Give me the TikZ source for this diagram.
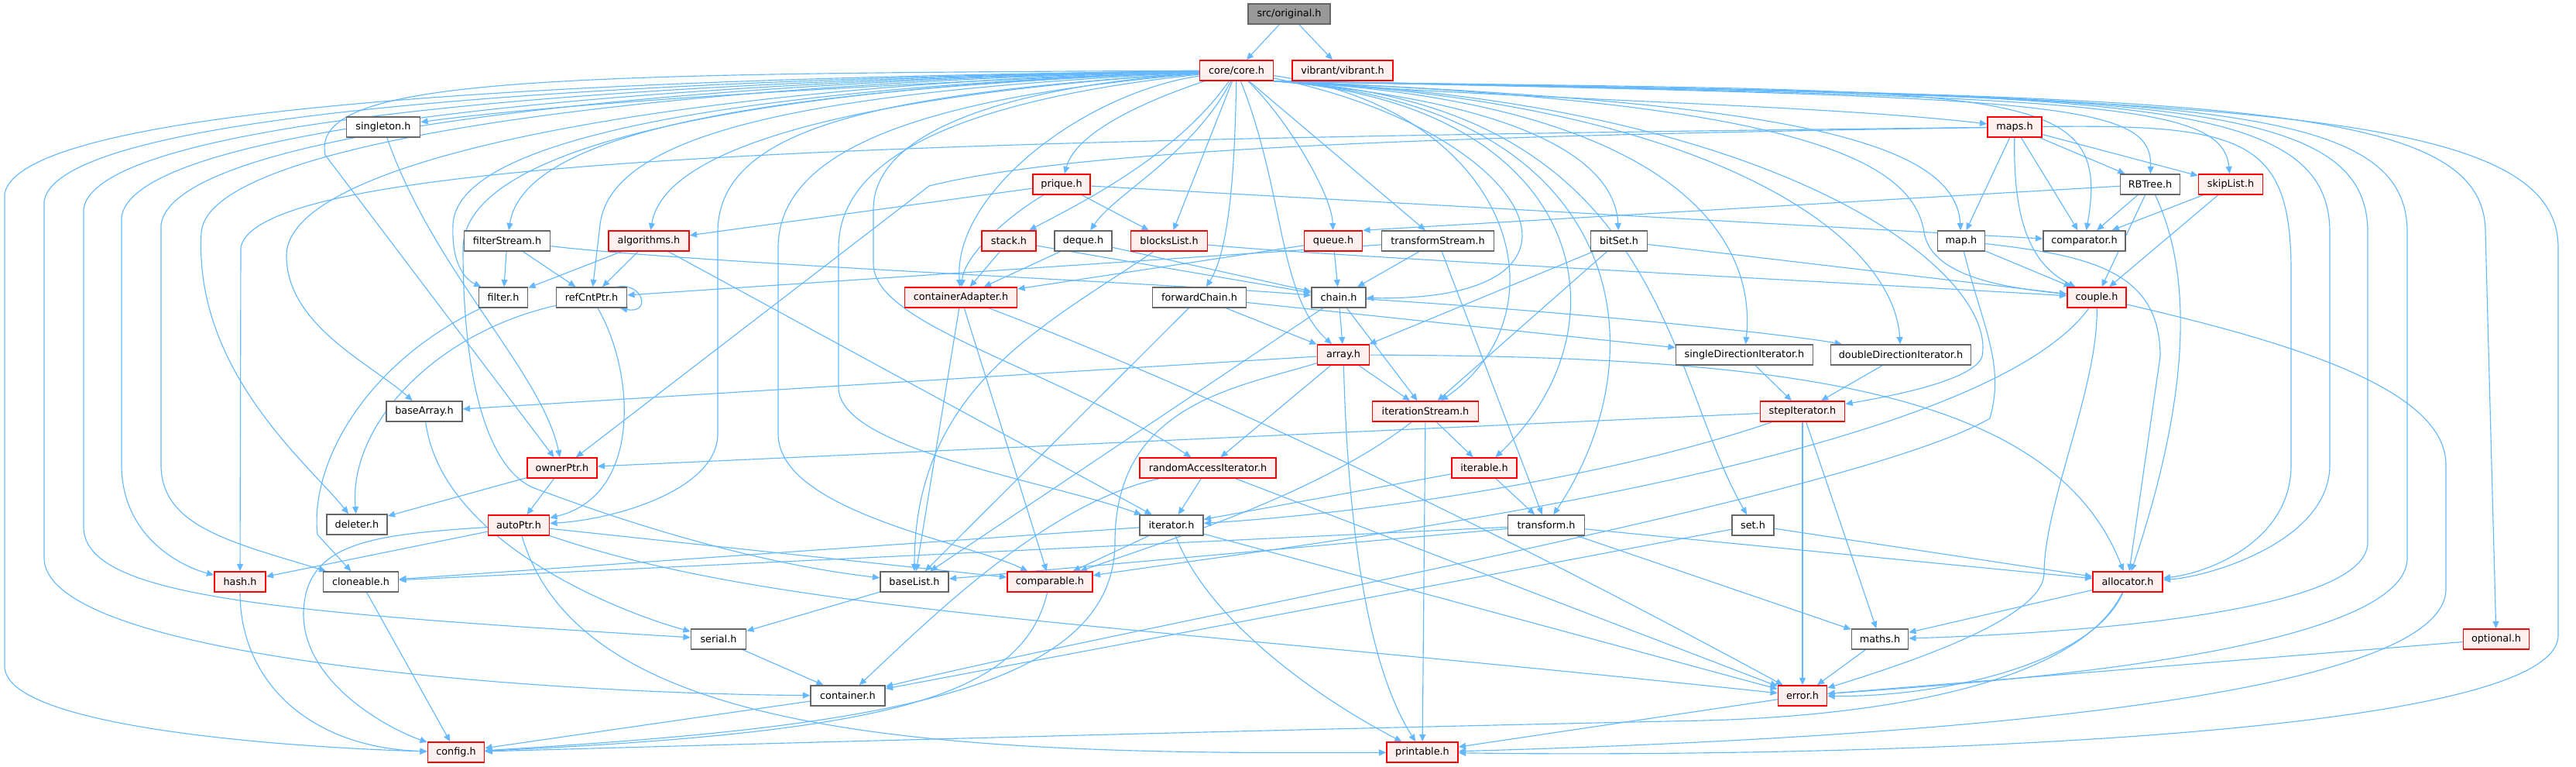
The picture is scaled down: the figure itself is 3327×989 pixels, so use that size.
\documentclass[tikz,border=0pt]{standalone}
\usepackage{fontspec}
\setmainfont{DejaVu Sans}
\usetikzlibrary{arrows.meta, backgrounds}
\definecolor{edgeblue}{HTML}{63B8FF}
\definecolor{boxgray}{HTML}{666666}
\definecolor{boxred}{HTML}{FF0000}
\definecolor{boxpink}{HTML}{FFF0F0}
\definecolor{rootfill}{HTML}{999999}
\tikzset{
  header/.style={rectangle, draw=boxgray, line width=1.1pt, fill=white, minimum height=19.5pt, inner sep=1pt, text centered},
  redheader/.style={header, draw=boxred, fill=boxpink},
  rootheader/.style={header, fill=rootfill},
  wd/.style={minimum width=#1*0.75pt},
  arrow/.style={-{Triangle[length=7pt, width=6pt]}, draw=edgeblue, line width=0.85pt}
}

\begin{document}
\begin{tikzpicture}[x=0.75pt, y=-0.75pt, every node/.style={font=\fontsize{9.6}{11}\selectfont}]
  \useasboundingbox (0,0) rectangle (3327,989);
  % Nodes
  \node[rootheader, wd=106] (original) at (1665,18) {src/original.h};
  \node[redheader, wd=95] (core) at (1597,91) {core/core.h};
  \node[redheader, wd=130] (vibrant) at (1734,91) {vibrant/vibrant.h};
  \node[header, wd=95] (singleton) at (495,164) {singleton.h};
  \node[redheader, wd=70] (maps) at (2602,164) {maps.h};
  \node[redheader, wd=74] (prique) at (1371,238) {prique.h};
  \node[header, wd=77] (rbtree) at (2777,238) {RBTree.h};
  \node[redheader, wd=83] (skiplist) at (2881,238) {skipList.h};
  \node[header, wd=111] (filterstream) at (655,311) {filterStream.h};
  \node[redheader, wd=104] (algorithms) at (838,311) {algorithms.h};
  \node[redheader, wd=70] (stack) at (1303,311) {stack.h};
  \node[header, wd=74] (deque) at (1399,311) {deque.h};
  \node[redheader, wd=99] (blockslist) at (1510,311) {blocksList.h};
  \node[redheader, wd=75] (queue) at (1722,311) {queue.h};
  \node[header, wd=145] (transformstream) at (1857,311) {transformStream.h};
  \node[header, wd=73] (bitset) at (2091,311) {bitSet.h};
  \node[header, wd=61] (map) at (2533,311) {map.h};
  \node[header, wd=106] (comparator) at (2692,311) {comparator.h};
  \node[header, wd=63] (filter) at (650,384) {filter.h};
  \node[header, wd=91] (refcntptr) at (764,384) {refCntPtr.h};
  \node[redheader, wd=145] (containeradapter) at (1241,384) {containerAdapter.h};
  \node[header, wd=121] (forwardchain) at (1549,384) {forwardChain.h};
  \node[header, wd=70] (chain) at (1729,384) {chain.h};
  \node[redheader, wd=76] (couple) at (2708,384) {couple.h};
  \node[redheader, wd=67] (array) at (1735,458) {array.h};
  \node[header, wd=177] (singledir) at (2253,458) {singleDirectionIterator.h};
  \node[header, wd=181] (doubledir) at (2455,458) {doubleDirectionIterator.h};
  \node[header, wd=98] (basearray) at (548,531) {baseArray.h};
  \node[redheader, wd=137] (iterationstream) at (1841,531) {iterationStream.h};
  \node[redheader, wd=109] (stepiterator) at (2328,531) {stepIterator.h};
  \node[redheader, wd=90] (ownerptr) at (726,604) {ownerPtr.h};
  \node[redheader, wd=176] (randomaccess) at (1560,604) {randomAccessIterator.h};
  \node[redheader, wd=84] (iterable) at (1917,604) {iterable.h};
  \node[header, wd=78] (deleter) at (461,677) {deleter.h};
  \node[redheader, wd=79] (autoptr) at (670,678) {autoPtr.h};
  \node[header, wd=82] (iterator) at (1513,678) {iterator.h};
  \node[header, wd=99] (transform) at (1997,678) {transform.h};
  \node[header, wd=54] (set) at (2264,678) {set.h};
  \node[redheader, wd=66] (hash) at (310,751) {hash.h};
  \node[header, wd=97] (cloneable) at (466,751) {cloneable.h};
  \node[header, wd=88] (baselist) at (1181,751) {baseList.h};
  \node[redheader, wd=110] (comparable) at (1356,751) {comparable.h};
  \node[redheader, wd=90] (allocator) at (2748,751) {allocator.h};
  \node[header, wd=71] (serial) at (928,825) {serial.h};
  \node[header, wd=73] (maths) at (2428,825) {maths.h};
  \node[redheader, wd=85] (optional) at (3224,825) {optional.h};
  \node[header, wd=96] (container) at (1095,898) {container.h};
  \node[redheader, wd=63] (error) at (2328,898) {error.h};
  \node[redheader, wd=73] (config) at (589,971) {config.h};
  \node[redheader, wd=92] (printable) at (1837,971) {printable.h};

  \begin{scope}[on background layer]
  % Connections from the root
  \draw[arrow] (original) -- (core);
  \draw[arrow] (original) -- (vibrant);

  % core.h, round the left
  \draw[arrow] (core) .. controls (900,100) and (30,125) .. (6,250) -- (6,860) .. controls (6,940) and (380,965) .. (config);
  \draw[arrow] (core) .. controls (900,101) and (75,135) .. (57,260) -- (57,720) .. controls (57,850) and (700,895) .. (container);
  \draw[arrow] (core) .. controls (900,102) and (125,145) .. (108,270) -- (108,680) .. controls (108,770) and (350,790) .. (serial);
  \draw[arrow] (core) .. controls (900,103) and (175,155) .. (157,280) -- (157,600) .. controls (157,690) and (230,730) .. (hash);
  \draw[arrow] (core) .. controls (900,104) and (225,165) .. (208,290) -- (208,600) .. controls (208,680) and (300,700) .. (cloneable);
  \draw[arrow] (core) .. controls (900,106) and (270,175) .. (260,300) .. controls (250,480) and (400,600) .. (deleter);
  \draw[arrow] (core) .. controls (900,108) and (370,200) .. (370,330) .. controls (370,420) and (480,470) .. (basearray);
  \draw[arrow] (core) .. controls (700,95) and (400,100) .. (420,200) -- (ownerptr);
  \draw[arrow] (core) .. controls (1200,105) and (750,130) .. (singleton);
  \draw[arrow] (core) .. controls (1000,112) and (590,170) .. (585,290) .. controls (583,340) and (600,360) .. (filter);
  \draw[arrow] (core) .. controls (1100,112) and (680,150) .. (filterstream);
  \draw[arrow] (core) .. controls (1100,116) and (790,160) .. (775,290) -- (refcntptr);
  \draw[arrow] (core) .. controls (1150,120) and (860,180) .. (algorithms);
  \draw[arrow] (core) .. controls (950,114) and (600,190) .. (598,320) .. controls (598,520) and (640,610) .. (690,630) .. controls (850,690) and (1000,730) .. (baselist);
  \draw[arrow] (core) .. controls (1150,120) and (927,160) .. (927,300) -- (927,560) .. controls (927,630) and (800,670) .. (autoptr);
  \draw[arrow] (core) .. controls (1200,125) and (1005,190) .. (1005,320) -- (1005,560) .. controls (1005,660) and (1250,700) .. (comparable);
  \draw[arrow] (core) .. controls (1250,128) and (1083,200) .. (1083,320) -- (1083,500) .. controls (1083,580) and (1350,620) .. (iterator);
  \draw[arrow] (core) .. controls (1300,112) and (1128,170) .. (1128,270) -- (1128,340) .. controls (1128,420) and (1350,470) .. (randomaccess);

  % core.h, straight down
  \draw[arrow] (core) .. controls (1480,130) and (1390,170) .. (prique);
  \draw[arrow] (core) .. controls (1400,120) and (1230,250) .. (containeradapter);
  \draw[arrow] (core) .. controls (1520,200) and (1400,260) .. (stack);
  \draw[arrow] (core) .. controls (1540,200) and (1440,250) .. (deque);
  \draw[arrow] (core) -- (blockslist);
  \draw[arrow] (core) .. controls (1595,200) and (1590,320) .. (forwardchain);
  \draw[arrow] (core) .. controls (1660,250) and (1650,380) .. (array);
  \draw[arrow] (core) .. controls (1660,150) and (1720,250) .. (queue);
  \draw[arrow] (core) -- (transformstream);
  \draw[arrow] (core) .. controls (1980,170) and (2100,390) .. (chain);
  \draw[arrow] (core) .. controls (1950,140) and (2030,400) .. (iterationstream);

  % core.h, round the right
  \draw[arrow] (core.south east) .. controls (1950,130) and (2085,200) .. (bitset);
  \draw[arrow] (core.south east) .. controls (2050,135) and (2110,420) .. (iterable);
  \draw[arrow] (core.south east) .. controls (2100,135) and (2150,450) .. (transform);
  \draw[arrow] (core.south east) .. controls (2150,130) and (2150,480) .. (set);
  \draw[arrow] (core.south east) .. controls (2150,130) and (2270,300) .. (singledir);
  \draw[arrow] (core.south east) .. controls (2200,130) and (2445,300) .. (doubledir);
  \draw[arrow] (core.south east) .. controls (2300,130) and (2580,350) .. (2560,460) .. controls (2550,490) and (2450,510) .. (stepiterator);
  \draw[arrow] (core.south east) .. controls (2000,130) and (2350,135) .. (maps);
  \draw[arrow] (core.south east) .. controls (2250,130) and (2525,170) .. (map);
  \draw[arrow] (core.south east) .. controls (2300,130) and (2470,200) .. (2485,300) .. controls (2495,360) and (2600,372) .. (couple);
  \draw[arrow] (core.south east) .. controls (2600,120) and (2730,100) .. (comparator);
  \draw[arrow] (core.south east) .. controls (2650,125) and (2780,130) .. (rbtree);
  \draw[arrow] (core.south east) .. controls (2700,125) and (2870,130) .. (skiplist);
  \draw[arrow] (core.south east) .. controls (2700,125) and (3009,110) .. (3009,300) -- (3009,600) .. controls (3009,700) and (2850,745) .. (allocator);
  \draw[arrow] (core.south east) .. controls (2750,125) and (3058,115) .. (3058,300) -- (3058,700) .. controls (3058,800) and (2600,820) .. (maths);
  \draw[arrow] (core.south east) .. controls (2800,125) and (3109,120) .. (3109,300) -- (3109,720) .. controls (3109,850) and (2500,885) .. (error);
  \draw[arrow] (core.south east) .. controls (2850,125) and (3210,125) .. (3210,300) -- (optional);
  \draw[arrow] (core.south east) .. controls (2900,125) and (3304,140) .. (3304,320) -- (3304,820) .. controls (3304,960) and (2300,978) .. (printable);

  % left part
  \draw[arrow] (singleton) .. controls (560,350) and (700,480) .. (ownerptr);
  \draw[arrow] (filterstream) -- (filter);
  \draw[arrow] (filterstream) -- (refcntptr);
  \draw[arrow] (filterstream) .. controls (900,340) and (1500,365) .. (chain);
  \draw[arrow] (algorithms) -- (filter);
  \draw[arrow] (algorithms) -- (refcntptr);
  \draw[arrow] (algorithms) -- (iterator);
  \draw[arrow] ([xshift=-10pt]refcntptr.north east) .. controls +(35,-6) and +(40,8) .. ([xshift=-7pt]refcntptr.south east);
  \draw[arrow] (refcntptr) .. controls (560,430) and (450,550) .. (deleter);
  \draw[arrow] (refcntptr) .. controls (820,480) and (830,640) .. (autoptr);
  \draw[arrow] (filter) .. controls (470,470) and (400,600) .. (410,690) -- (cloneable);
  \draw[arrow] (ownerptr) -- (deleter);
  \draw[arrow] (ownerptr) -- (autoptr);
  \draw[arrow] (autoptr) -- (hash);
  \draw[arrow] (autoptr) -- (comparable);
  \draw[arrow] (autoptr) .. controls (1000,790) and (1400,800) .. (error);
  \draw[arrow] (autoptr) .. controls (750,950) and (1200,975) .. (printable);
  \draw[arrow] (autoptr) .. controls (480,690) and (395,700) .. (392,790) .. controls (390,880) and (500,940) .. (config);
  \draw[arrow] (basearray) .. controls (570,700) and (800,790) .. (serial);
  \draw[arrow] (hash) .. controls (310,880) and (400,965) .. (config);
  \draw[arrow] (cloneable) -- (config);
  \draw[arrow] (serial) -- (container);
  \draw[arrow] (container) -- (config);

  % middle part
  \draw[arrow] (prique) -- (algorithms);
  \draw[arrow] (prique) .. controls (1300,280) and (1245,330) .. (containeradapter);
  \draw[arrow] (prique) -- (blockslist);
  \draw[arrow] (prique) -- (comparator);
  \draw[arrow] (stack) -- (containeradapter);
  \draw[arrow] (stack) -- (chain);
  \draw[arrow] (deque) -- (containeradapter);
  \draw[arrow] (deque) -- (chain);
  \draw[arrow] (blockslist) .. controls (1350,420) and (1181,500) .. (baselist);
  \draw[arrow] (blockslist) .. controls (1700,330) and (2300,360) .. (couple);
  \draw[arrow] (queue) -- (containeradapter);
  \draw[arrow] (queue) -- (chain);
  \draw[arrow] (transformstream) -- (chain);
  \draw[arrow] (transformstream) -- (refcntptr);
  \draw[arrow] (transformstream) -- (transform);
  \draw[arrow] (containeradapter) -- (baselist);
  \draw[arrow] (containeradapter) -- (comparable);
  \draw[arrow] (containeradapter) .. controls (1600,520) and (2000,720) .. (error);
  \draw[arrow] (forwardchain) -- (array);
  \draw[arrow] (forwardchain) -- (singledir);
  \draw[arrow] (forwardchain) -- (baselist);
  \draw[arrow] (chain) -- (array);
  \draw[arrow] (chain) -- (baselist);
  \draw[arrow] (chain) -- (iterationstream);
  \draw[arrow] (chain) .. controls (2000,400) and (2300,430) .. (doubledir);
  \draw[arrow] (array) -- (basearray);
  \draw[arrow] (array) -- (iterationstream);
  \draw[arrow] (array) -- (randomaccess);
  \draw[arrow] (array) .. controls (2300,460) and (2650,500) .. (allocator);
  \draw[arrow] (array) .. controls (1740,650) and (1760,850) .. (printable);
  \draw[arrow] (array) .. controls (1600,500) and (1440,520) .. (1440,700) .. controls (1440,900) and (1100,940) .. (config);
  \draw[arrow] (iterationstream) -- (iterable);
  \draw[arrow] (iterationstream) -- (printable);
  \draw[arrow] (iterationstream) .. controls (1700,640) and (1500,700) .. (comparable);
  \draw[arrow] (randomaccess) -- (iterator);
  \draw[arrow] (randomaccess) .. controls (1350,650) and (1200,800) .. (container);
  \draw[arrow] (randomaccess) -- (error);
  \draw[arrow] (iterable) -- (iterator);
  \draw[arrow] (iterable) -- (transform);
  \draw[arrow] (iterator) -- (cloneable);
  \draw[arrow] (iterator) -- (comparable);
  \draw[arrow] (iterator) .. controls (1560,800) and (1700,900) .. (printable);
  \draw[arrow] (iterator) -- (error);
  \draw[arrow] (transform) -- (cloneable);
  \draw[arrow] (transform) -- (baselist);
  \draw[arrow] (transform) -- (allocator);
  \draw[arrow] (transform) -- (maths);
  \draw[arrow] (baselist) -- (serial);
  \draw[arrow] (comparable) .. controls (1320,900) and (1150,945) .. (config);

  % right part
  \draw[arrow] (bitset) -- (array);
  \draw[arrow] (bitset) -- (iterationstream);
  \draw[arrow] (bitset) -- (couple);
  \draw[arrow] (singledir) -- (stepiterator);
  \draw[arrow] (doubledir) -- (stepiterator);
  \draw[arrow] (stepiterator) -- (ownerptr);
  \draw[arrow] (stepiterator) .. controls (2100,610) and (1800,660) .. (iterator);
  \draw[arrow] (stepiterator) -- (error);
  \draw[arrow] (stepiterator) -- (maths);
  \draw[arrow] (set) -- (allocator);
  \draw[arrow] (set) -- (container);
  \draw[arrow] (maps) .. controls (1200,180) and (330,200) .. (311,320) -- (hash);
  \draw[arrow] (maps) .. controls (1900,175) and (1400,190) .. (1200,240) -- (ownerptr);
  \draw[arrow] (maps) -- (map);
  \draw[arrow] (maps) .. controls (2600,280) and (2620,340) .. (couple);
  \draw[arrow] (maps) -- (comparator);
  \draw[arrow] (maps) -- (rbtree);
  \draw[arrow] (maps) -- (skiplist);
  \draw[arrow] (maps) .. controls (2900,160) and (2959,180) .. (2959,350) -- (2959,600) .. controls (2959,700) and (2850,740) .. (allocator);
  \draw[arrow] (rbtree) -- (comparator);
  \draw[arrow] (rbtree) -- (couple);
  \draw[arrow] (rbtree) .. controls (2830,350) and (2832,500) .. (allocator);
  \draw[arrow] (rbtree) -- (queue.north east);
  \draw[arrow] (skiplist) -- (comparator);
  \draw[arrow] (skiplist) -- (couple);
  \draw[arrow] (map) -- (couple);
  \draw[arrow] (map) .. controls (2700,330) and (2790,350) .. (2790,460) -- (allocator);
  \draw[arrow] (map) .. controls (2560,420) and (2590,470) .. (2570,540) .. controls (2400,640) and (1500,800) .. (container);
  \draw[arrow] (couple) .. controls (2710,500) and (2640,650) .. (2640,740) .. controls (2640,800) and (2450,860) .. (error);
  \draw[arrow] (couple) .. controls (2950,440) and (3159,500) .. (3159,600) -- (3159,760) .. controls (3159,920) and (2300,958) .. (printable);
  \draw[arrow] (couple) .. controls (2550,600) and (1700,700) .. (comparable);
  \draw[arrow] (allocator) -- (maths);
  \draw[arrow] (allocator) .. controls (2700,860) and (2500,900) .. (error);
  \draw[arrow] (allocator) .. controls (2680,890) and (2400,925) .. (2200,930) .. controls (1500,945) and (800,965) .. (config);
  \draw[arrow] (maths) -- (error);
  \draw[arrow] (optional) -- (error);
  \draw[arrow] (error) -- (printable);
  \end{scope}
\end{tikzpicture}
\end{document}
